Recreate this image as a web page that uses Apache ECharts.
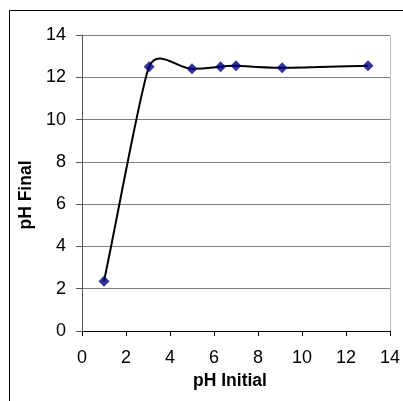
<!DOCTYPE html>
<html><head><meta charset="utf-8">
<script src="https://cdn.jsdelivr.net/npm/echarts@6/dist/echarts.min.js"></script>
<style>html,body{margin:0;padding:0;background:#fff;}#c{width:403px;height:401px;}</style>
</head><body><div id="c"></div>
<script>
const phInitial = [1, 3.05, 5, 6.3, 7, 9.1, 13];
const phFinal = [2.35, 12.5, 12.4, 12.5, 12.55, 12.45, 12.55];
const xTitle = 'pH Initial';
const yTitle = 'pH Final';

const chart = echarts.init(document.getElementById('c'), null, {renderer: 'canvas'});
const font = 'Liberation Sans, Arial, sans-serif';
const points = phInitial.map((x, i) => [x, phFinal[i]]);
const TENSION = 0.5;

// Smoothed segment (cubic bezier, tangent along neighbours, no clamping), using the library's coords
function renderSegment(params, api) {
  const i = params.dataIndex;
  const n = points.length;
  if (i >= n - 1) return null;
  const P = j => api.coord(points[j]);
  const dist = (a, b) => Math.hypot(a[0] - b[0], a[1] - b[1]);
  const unit = (a, b) => { const d = dist(a, b) || 1; return [(b[0] - a[0]) / d, (b[1] - a[1]) / d]; };
  const p1 = P(i), p2 = P(i + 1);
  const d12 = dist(p1, p2);
  let c1, c2;
  if (i === 0) {
    const u = unit(p1, p2);
    c1 = [p1[0] + u[0] * d12 / 3, p1[1] + u[1] * d12 / 3];
  } else {
    const p0 = P(i - 1);
    const u = unit(p0, p2);
    const L = TENSION * Math.min(dist(p0, p1), d12);
    c1 = [p1[0] + u[0] * L, p1[1] + u[1] * L];
  }
  if (i === n - 2) {
    const u = unit(p1, p2);
    c2 = [p2[0] - u[0] * d12 / 3, p2[1] - u[1] * d12 / 3];
  } else {
    const p3 = P(i + 2);
    const u = unit(p1, p3);
    const L = TENSION * Math.min(d12, dist(p2, p3));
    c2 = [p2[0] - u[0] * L, p2[1] - u[1] * L];
  }
  return {
    type: 'bezierCurve',
    shape: {x1: p1[0], y1: p1[1], x2: p2[0], y2: p2[1], cpx1: c1[0], cpy1: c1[1], cpx2: c2[0], cpy2: c2[1]},
    style: {stroke: '#000', lineWidth: 2, fill: null}
  };
}

chart.setOption({
  animation: false,
  backgroundColor: '#fff',
  graphic: [
    {type: 'rect', shape: {x: 9.5, y: 10.5, width: 600, height: 600}, style: {fill: 'none', stroke: '#000', lineWidth: 1}, z: 100},
    {type: 'line', shape: {x1: 390.5, y1: 35, x2: 390.5, y2: 331}, style: {stroke: '#c0c0c0', lineWidth: 1}, z: 50}
  ],
  grid: {left: 82, top: 35, width: 308, height: 296},
  xAxis: {
    type: 'value', min: 0, max: 14, interval: 2,
    name: xTitle, nameLocation: 'middle', nameGap: 40,
    nameTextStyle: {fontFamily: font, fontSize: 17.5, fontWeight: 'bold', color: '#000', padding: [0, 12, 0, 0]},
    axisLine: {show: true, lineStyle: {color: '#000', width: 1}},
    axisTick: {show: true, inside: false, length: 5, lineStyle: {color: '#000'}},
    axisLabel: {fontFamily: font, fontSize: 18, color: '#000', margin: 18},
    splitLine: {show: false}
  },
  yAxis: {
    type: 'value', min: 0, max: 14, interval: 2,
    name: yTitle, nameLocation: 'middle', nameGap: 42, nameRotate: 90,
    nameTextStyle: {fontFamily: font, fontSize: 17.5, fontWeight: 'bold', color: '#000', padding: [0, 24, 0, 0]},
    axisLine: {show: true, lineStyle: {color: '#555', width: 1}},
    axisTick: {show: true, inside: false, length: 6, lineStyle: {color: '#555'}},
    axisLabel: {fontFamily: font, fontSize: 18, color: '#000', margin: 16},
    splitLine: {show: true, lineStyle: {color: '#808080', width: 1}}
  },
  series: [{
    type: 'custom',
    renderItem: renderSegment,
    data: points,
    z: 2
  }, {
    type: 'scatter',
    data: points,
    symbol: 'diamond', symbolSize: 11,
    itemStyle: {color: '#000080'},
    z: 3
  }]
});
</script></body></html>
